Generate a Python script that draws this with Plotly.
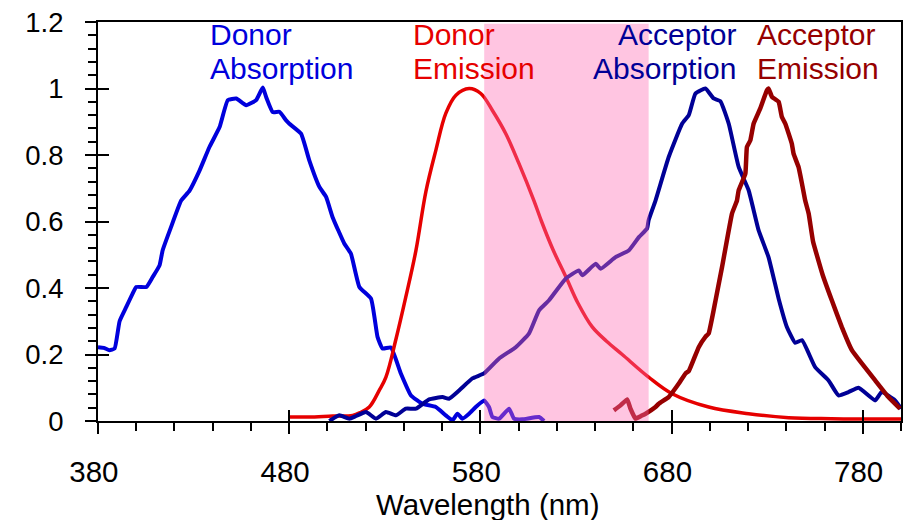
import plotly.graph_objects as go

# ---------------- data ----------------
donor_abs_wl = [380, 383, 386, 388.7, 391.3, 394.8, 398.1, 400, 405.3, 408.6, 412.2, 413.8, 418, 423.5,
                427.9, 433.1, 438.3, 443.6, 447.9, 452.3, 457.5, 462.7, 466.2, 467.9, 471.4, 474.9,
                478.4, 480.1, 486.2, 490.5, 495.8, 499.3, 502.7, 508.8, 512.3, 516.7, 522.8, 526.2,
                528.8, 533.2, 538.4, 543.7, 549.7, 556.7, 561.9, 565.4, 568, 570.6, 574.1, 577.6,
                581.9, 584.5, 586.3, 589.8, 595, 597.6, 601.9, 610.7, 613.3]
donor_abs = [0.222, 0.220, 0.213, 0.218, 0.300, 0.343, 0.383, 0.403, 0.403, 0.433, 0.468, 0.513, 0.58, 0.663,
             0.693, 0.753, 0.824, 0.884, 0.965, 0.970, 0.950, 0.965, 1.003, 0.975, 0.929, 0.930,
             0.904, 0.894, 0.864, 0.784, 0.704, 0.674, 0.613, 0.534, 0.503, 0.403, 0.368, 0.253,
             0.218, 0.221, 0.143, 0.077, 0.052, 0.042, 0.017, 0.002, 0.022, 0.007, 0.022, 0.042,
             0.062, 0.042, 0.012, 0.007, 0.037, 0.007, 0.005, 0.012, 0.0]

donor_em_wl = [480, 490, 502.7, 513.2, 517, 521.9, 527.1, 530.6, 535.8, 541, 546.3, 551.5, 556.7, 561.9,
               567.2, 574.1, 580.2, 586.3, 593.3, 600.2, 608, 612, 618, 625, 631, 638.5, 646, 654.2,
               668, 680.3, 699.4, 720.3, 741.2, 763.7, 800]
donor_em = [0.012, 0.012, 0.015, 0.017, 0.025, 0.042, 0.092, 0.132, 0.245, 0.373, 0.513, 0.69, 0.814, 0.925,
            0.98, 1.0, 0.985, 0.934, 0.864, 0.774, 0.663, 0.60, 0.515, 0.43, 0.355, 0.283, 0.24, 0.20,
            0.132, 0.082, 0.042, 0.022, 0.010, 0.007, 0.006]

acc_abs_wl = [501, 506.2, 511.4, 515, 520.2, 525.4, 530.6, 535.8, 541, 546.3, 553.2, 560.2, 563.6, 568.9,
              575.8, 581.9, 589.8, 598.5, 605.4, 610.7, 615.9, 624.6, 631.5, 633.3, 640.3, 642.9, 650.7,
              657.6, 662.9, 667.2, 668, 671.6, 678.5, 685.5, 689, 692.5, 697.7, 702, 705.5, 709.9,
              715.1, 720.3, 725.5, 730.7, 736, 740.3, 744.7, 748.2, 755.1, 762.1, 767.3, 772.5, 777.8,
              786.5, 789.9, 796.9, 800]
acc_abs = [0.0, 0.017, 0.007, 0.015, 0.027, 0.007, 0.027, 0.017, 0.037, 0.037, 0.065, 0.072, 0.067, 0.092,
           0.128, 0.143, 0.188, 0.222, 0.263, 0.333, 0.363, 0.428, 0.453, 0.438, 0.473, 0.458, 0.493,
           0.513, 0.553, 0.579, 0.604, 0.663, 0.794, 0.894, 0.920, 0.985, 1.0, 0.970, 0.962, 0.894,
           0.764, 0.694, 0.574, 0.493, 0.368, 0.283, 0.235, 0.243, 0.162, 0.122, 0.077, 0.087, 0.100,
           0.062, 0.087, 0.062, 0.037]

acc_em_wl = [649.8, 653.3, 656.8, 658.5, 661.1, 664, 666.4, 671.6, 673.3, 678.5, 680.3, 683.7, 687.3, 689,
             694.2, 697.7, 699.4, 702, 703, 706.4, 711.6, 714.2, 715.1, 718.6, 719.4, 721.2, 722.9,
             726.4, 729.9, 730.7, 732.5, 736, 737.7, 739.5, 742.9, 743.8, 746.4, 748.2, 749.9, 751.7,
             754, 759, 763.8, 769, 774.3, 779.5, 786.5, 793.4, 799.5]
acc_em = [0.032, 0.047, 0.065, 0.037, 0.007, 0.015, 0.022, 0.042, 0.052, 0.072, 0.085, 0.112, 0.143, 0.150,
          0.222, 0.253, 0.263, 0.333, 0.363, 0.463, 0.624, 0.663, 0.694, 0.744, 0.824, 0.844, 0.894,
          0.940, 0.995, 1.0, 0.975, 0.960, 0.914, 0.894, 0.834, 0.804, 0.764, 0.714, 0.663, 0.624,
          0.54, 0.44, 0.363, 0.283, 0.213, 0.173, 0.122, 0.072, 0.037]

band_range = [582, 668]

x_major = [380, 480, 580, 680, 780]
y_major = [0, 0.2, 0.4, 0.6, 0.8, 1, 1.2]
y_major_text = ["0", "0.2", "0.4", "0.6", "0.8", "1", "1.2"]

label_lines = [("Donor", "Absorption"), ("Donor", "Emission"), ("Acceptor", "Absorption"), ("Acceptor", "Emission")]
x_title = "Wavelength (nm)"

# ---------------- figure ----------------
FONT = "Liberation Sans, Arial, sans-serif"
C_DA = "#0000DC"
C_DE = "#E60000"
C_AA = "#000096"
C_AE = "#960000"

fig = go.Figure()
fig.add_trace(go.Scatter(x=donor_abs_wl, y=donor_abs, mode="lines",
                         line=dict(color=C_DA, width=4, shape="spline", smoothing=0.4), name="Donor Absorption"))
fig.add_trace(go.Scatter(x=donor_em_wl, y=donor_em, mode="lines",
                         line=dict(color=C_DE, width=3.5, shape="spline", smoothing=1), name="Donor Emission"))
fig.add_trace(go.Scatter(x=acc_abs_wl, y=acc_abs, mode="lines",
                         line=dict(color=C_AA, width=4, shape="spline", smoothing=0.4), name="Acceptor Absorption"))
fig.add_trace(go.Scatter(x=acc_em_wl, y=acc_em, mode="lines",
                         line=dict(color=C_AE, width=4.5, shape="spline", smoothing=0.3), name="Acceptor Emission"))

fig.add_shape(type="rect", xref="x", yref="y", x0=band_range[0], x1=band_range[1], y0=0, y1=1.195,
              fillcolor="rgba(255,110,180,0.4)", line=dict(width=0), layer="above")

ann_font = dict(family=FONT, size=30)
label_specs = [  # (x anchor position in nm, xanchor, colour)
    (437.5, "left", C_DA),
    (543.5, "left", C_DE),
    (714.5, "right", C_AA),
    (723.8, "left", C_AE),
]
for (l1, l2), (xa, anc, col) in zip(label_lines, label_specs):
    for txt, yy in ((l1, 1.163), (l2, 1.06)):
        fig.add_annotation(x=xa, y=yy, xref="x", yref="y", text=txt, showarrow=False,
                           xanchor=anc, yanchor="middle", align=anc, font=dict(ann_font, color=col))

fig.add_annotation(x=0.4857, y=-0.166, xref="paper", yref="paper", text=x_title, showarrow=False,
                   xanchor="center", yanchor="top", borderpad=0,
                   font=dict(family=FONT, size=29.5, color="black"))

fig.update_layout(
    width=907, height=520,
    margin=dict(l=98, r=4, t=22, b=99),
    paper_bgcolor="white", plot_bgcolor="white",
    showlegend=False,
    xaxis=dict(range=[380, 800], tickvals=x_major, ticktext=[str(v) + "\u00a0" for v in x_major],
               ticks="outside", ticklen=11, tickwidth=2, tickcolor="black",
               minor=dict(ticks="outside", ticklen=8, tickwidth=2, tickcolor="black", dtick=20, tick0=380),
               showline=True, linecolor="black", linewidth=2, mirror=True,
               showgrid=False, zeroline=False, tickfont=dict(family=FONT, size=29.5, color="black"),
               ticklabelstandoff=13),
    yaxis=dict(range=[0, 1.2], tickvals=y_major, ticktext=y_major_text,
               ticks="outside", ticklen=11, tickwidth=2, tickcolor="black",
               minor=dict(ticks="outside", ticklen=8, tickwidth=2, tickcolor="black", dtick=0.04, tick0=0),
               showline=True, linecolor="black", linewidth=2, mirror=True,
               showgrid=False, zeroline=False, tickfont=dict(family=FONT, size=27.5, color="black"),
               ticklabelstandoff=16),
    xaxis2=dict(overlaying="x", matches="x", range=[380, 800], tickvals=x_major, ticks="inside",
                ticklen=11, tickwidth=2, tickcolor="black", showticklabels=False,
                showgrid=False, zeroline=False, showline=False, side="bottom"),
    yaxis2=dict(overlaying="y", matches="y", range=[0, 1.2], tickvals=y_major, ticks="inside",
                ticklen=11, tickwidth=2, tickcolor="black", showticklabels=False,
                showgrid=False, zeroline=False, showline=False, side="left"),
)
fig.add_trace(go.Scatter(x=[None], y=[None], xaxis="x2", yaxis="y2", showlegend=False, hoverinfo="skip"))

fig.write_html("out.html")
